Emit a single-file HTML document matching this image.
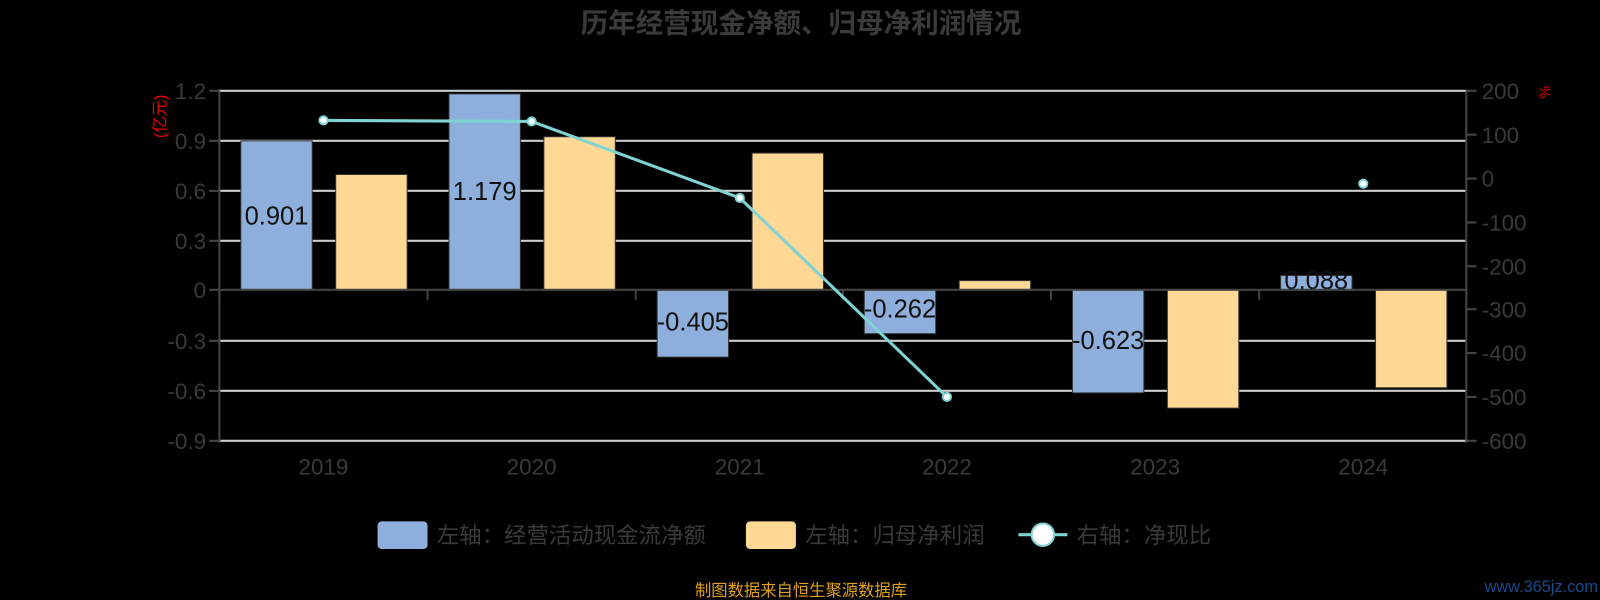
<!DOCTYPE html>
<html><head><meta charset="utf-8"><style>
body{margin:0;background:#000;width:1600px;height:600px;overflow:hidden}
svg{font-family:"Liberation Sans","Noto Sans CJK SC",sans-serif;display:block}
</style></head><body>
<svg width="1600" height="600" viewBox="0 0 1568 588" xmlns="http://www.w3.org/2000/svg">
<text x="785" y="32" text-anchor="middle" font-size="27" font-weight="bold" fill="#3a3a3a">历年经营现金净额、归母净利润情况</text>
<g stroke="#ccc" stroke-width="2">
<line x1="215" x2="1437" y1="89" y2="89"/><line x1="215" x2="1437" y1="138" y2="138"/>
<line x1="215" x2="1437" y1="187" y2="187"/><line x1="215" x2="1437" y1="236" y2="236"/>
<line x1="215" x2="1437" y1="334" y2="334"/><line x1="215" x2="1437" y1="383" y2="383"/>
<line x1="215" x2="1437" y1="432" y2="432"/>
</g>
<g stroke="#333" stroke-width="1">
<rect x="236" y="138" width="70" height="146" fill="#8eaedb"/>
<rect x="440" y="92" width="70" height="192" fill="#8eaedb"/>
<rect x="644" y="284" width="70" height="66" fill="#8eaedb"/>
<rect x="847" y="284" width="70" height="43" fill="#8eaedb"/>
<rect x="1051" y="284" width="70" height="101" fill="#8eaedb"/>
<rect x="1255" y="270" width="70" height="14" fill="#8eaedb"/>
<rect x="329" y="171" width="70" height="113" fill="#ffd896"/>
<rect x="533" y="134" width="70" height="150" fill="#ffd896"/>
<rect x="737" y="150" width="70" height="134" fill="#ffd896"/>
<rect x="940" y="275" width="70" height="9" fill="#ffd896"/>
<rect x="1144" y="284" width="70" height="116" fill="#ffd896"/>
<rect x="1348" y="284" width="70" height="96" fill="#ffd896"/>
</g>
<g font-size="25" fill="#111" text-anchor="middle">
<text x="271" y="220">0.901</text><text x="475" y="196">1.179</text>
<text x="679" y="324">-0.405</text><text x="882" y="311">-0.262</text>
<text x="1086" y="342">-0.623</text><text x="1290" y="283">0.088</text>
</g>
<g stroke="#444" stroke-width="2" fill="none">
<line x1="215" x2="1437" y1="284" y2="284"/>
<line x1="215" x2="215" y1="89" y2="434"/><line x1="1437" x2="1437" y1="89" y2="434"/>
<path d="M205 89h10M205 138h10M205 187h10M205 236h10M205 284h10M205 334h10M205 383h10M205 432h10"/>
<path d="M1437 89h10M1437 132h10M1437 175h10M1437 218h10M1437 261h10M1437 303h10M1437 346h10M1437 389h10M1437 432h10"/>
<path d="M215 284v10M419 284v10M623 284v10M826 284v10M1030 284v10M1234 284v10"/>
</g>
<g font-size="22" fill="#3a3a3a" text-anchor="end">
<text x="202" y="97">1.2</text><text x="202" y="146">0.9</text><text x="202" y="195">0.6</text><text x="202" y="244">0.3</text>
<text x="202" y="292">0</text><text x="202" y="342">-0.3</text><text x="202" y="391">-0.6</text><text x="202" y="440">-0.9</text>
</g>
<g font-size="22" fill="#3a3a3a" text-anchor="start">
<text x="1452" y="97">200</text><text x="1452" y="140">100</text><text x="1452" y="183">0</text><text x="1452" y="226">-100</text>
<text x="1452" y="269">-200</text><text x="1452" y="311">-300</text><text x="1452" y="354">-400</text><text x="1452" y="397">-500</text><text x="1452" y="440">-600</text>
</g>
<text x="1508" y="95" font-size="14" fill="#e00" transform="rotate(90 1514 90)">%</text>
<text transform="translate(162 114) rotate(-90)" font-size="16" fill="#e00" text-anchor="middle">(亿元)</text>
<g font-size="22" fill="#3a3a3a" text-anchor="middle">
<text x="317" y="465">2019</text><text x="521" y="465">2020</text><text x="725" y="465">2021</text>
<text x="928" y="465">2022</text><text x="1132" y="465">2023</text><text x="1336" y="465">2024</text>
</g>
<polyline points="317,118 521,119 725,194 928,389" fill="none" stroke="#7fd3d3" stroke-width="3"/>
<g fill="#fff" stroke="#7fd3d3" stroke-width="2">
<circle cx="317" cy="118" r="4"/><circle cx="521" cy="119" r="4"/><circle cx="725" cy="194" r="4"/><circle cx="928" cy="389" r="4"/><circle cx="1336" cy="180" r="4"/>
</g>
<rect x="370" y="511" width="49" height="27" rx="4" fill="#8eaedb"/>
<text x="428" y="532" font-size="22" fill="#3a3a3a">左轴：经营活动现金流净额</text>
<rect x="731" y="511" width="49" height="27" rx="4" fill="#ffd896"/>
<text x="789" y="532" font-size="22" fill="#3a3a3a">左轴：归母净利润</text>
<line x1="998" x2="1046" y1="524" y2="524" stroke="#7fd3d3" stroke-width="3"/>
<circle cx="1022" cy="524" r="11" fill="#fff" stroke="#7fd3d3" stroke-width="2"/>
<text x="1055" y="532" font-size="22" fill="#3a3a3a">右轴：净现比</text>
<text x="785" y="584" font-size="16" fill="#e0a020" text-anchor="middle">制图数据来自恒生聚源数据库</text>
<text x="1566" y="580" font-size="16" fill="#1a4a8a" text-anchor="end">www.365jz.com</text>
</svg>
</body></html>
